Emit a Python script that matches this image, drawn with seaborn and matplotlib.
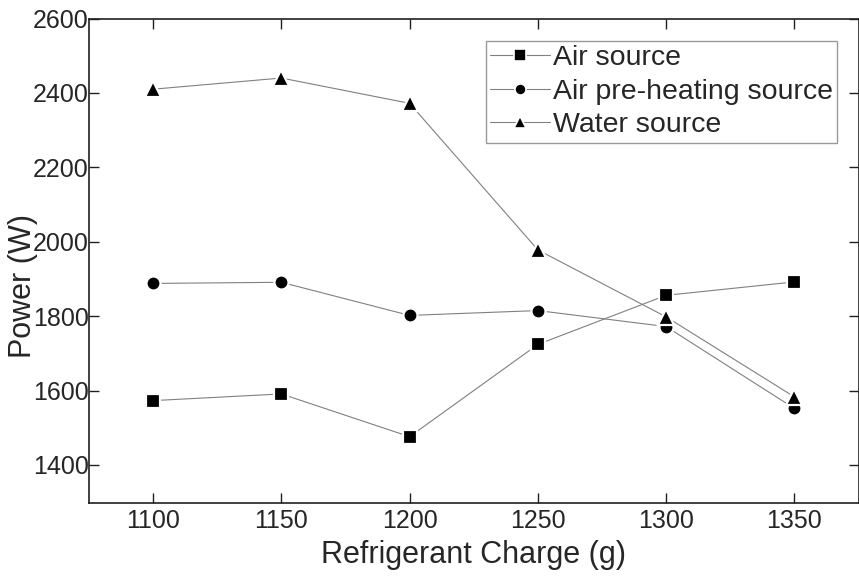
import matplotlib
matplotlib.use("Agg")
import matplotlib.pyplot as plt
import seaborn as sns
import pandas as pd

charge = [1100, 1150, 1200, 1250, 1300, 1350]
air_source = [1573, 1591, 1476, 1724, 1856, 1892]
air_preheat = [1888, 1891, 1802, 1815, 1772, 1552]
water_source = [2410, 2440, 2372, 1978, 1798, 1583]
series_names = ["Air source", "Air pre-heating source", "Water source"]
x_ticks = [1100, 1150, 1200, 1250, 1300, 1350]
y_ticks = [1400, 1600, 1800, 2000, 2200, 2400, 2600]

df = pd.DataFrame({
    "charge": charge * 3,
    "power": air_source + air_preheat + water_source,
    "series": sum([[n] * len(charge) for n in series_names], []),
})

sns.set_style("white")
plt.rcParams["font.family"] = ["Liberation Sans", "DejaVu Sans"]

fig = plt.figure(figsize=(8.59, 5.77), dpi=100)
ax = fig.add_axes([89 / 859, 1 - 503.3 / 577, 769.5 / 859, 484.8 / 577])

markers = {"Air source": "s", "Air pre-heating source": "o", "Water source": "^"}
sns.lineplot(data=df, x="charge", y="power", hue="series", style="series",
             hue_order=series_names, style_order=series_names,
             palette=["#808080"] * 3, markers=markers, dashes=False,
             linewidth=0.8, markersize=9, legend=False, ax=ax)

sizes = {"s": 8, "o": 8.5, "^": 10}
for line in ax.lines:
    line.set_markerfacecolor("black")
    line.set_markeredgecolor("white")
    line.set_markeredgewidth(1.6)
    line.set_markersize(sizes[line.get_marker()] + 1.6)

ax.set_xlim(1075, 1375)
ax.set_ylim(1297, 2600)
ax.set_xticks(x_ticks)
ax.set_yticks(y_ticks)
ax.set_xticklabels([str(v) for v in x_ticks])
ax.set_yticklabels([str(v) for v in y_ticks])

for s in ax.spines.values():
    s.set_visible(True)
    s.set_color("#202020")
    s.set_linewidth(1.2)

ax.tick_params(axis="x", direction="in", length=7, width=1, color="#202020",
               top=True, bottom=True, labelsize=18, pad=4)
ax.tick_params(axis="y", direction="in", length=7, width=1, color="#202020",
               left=True, right=True, labelsize=18, pad=0)

ax.set_xlabel("Refrigerant Charge (g)", fontsize=22, labelpad=5)
ax.set_ylabel("Power (W)", fontsize=22)
ax.yaxis.set_label_coords(-0.066, 0.448)

leg = ax.legend(ax.lines[:3], series_names, loc="upper right",
                bbox_to_anchor=(0.972, 0.954), borderaxespad=0,
                fontsize=20.5, frameon=True, fancybox=False,
                handlelength=2.1, handletextpad=0.1, labelspacing=0.27,
                borderpad=0.15)
leg.get_frame().set_edgecolor("#808080")
leg.get_frame().set_linewidth(1.0)
for h in leg.legend_handles:
    h.set_markersize(8)
    h.set_markeredgewidth(1.2)

fig.savefig("out.png", dpi=100)
